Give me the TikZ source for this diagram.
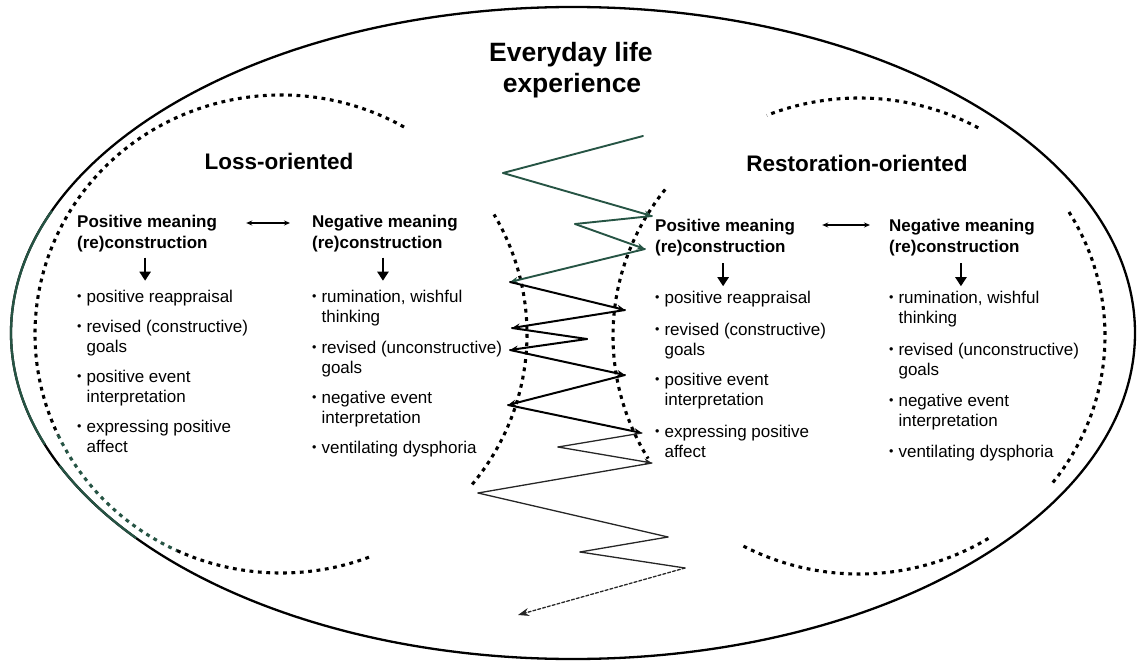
\documentclass[tikz,border=0pt]{standalone}
\usepackage{fontspec}
\setmainfont{Liberation Sans}
\usetikzlibrary{arrows.meta}
\definecolor{dkgreen}{RGB}{38,84,68}
% small raised bullet and two-line list items
\newcommand\blt{\raisebox{1.2pt}{\fontsize{12.5}{12.5}\selectfont\textbullet}\hspace{5pt}}
\newcommand\itm[2]{\vtop{\hbox{\blt #1}\hbox{\hphantom{\blt}#2}}}
\newcommand\twolines[2]{\vtop{\hbox{#1}\hbox{#2}}}
\begin{document}
\begin{tikzpicture}[x=1pt,y=-1pt,
  txt/.style={inner sep=0pt,anchor=base west,font=\fontsize{17}{20.5}\selectfont},
  head/.style={txt,font=\fontsize{17}{20.5}\selectfont\bfseries},
  title/.style={inner sep=0pt,anchor=base,font=\fontsize{22.5}{27}\selectfont\bfseries},
  bigtitle/.style={inner sep=0pt,anchor=base,font=\fontsize{26.5}{31}\selectfont\bfseries},
  dots/.style={line width=3.1pt,dash pattern=on 3.8pt off 4.6pt},
  dblarr/.style={line width=1.3pt,{Stealth[length=6pt,width=5pt]}-{Stealth[length=6pt,width=5pt]}},
  downarr/.style={line width=2.6pt,-{Triangle[length=9pt,width=11pt]}},
  zg/.style={line width=1.9pt,dkgreen,line cap=round},
  zb/.style={line width=2pt,black,line cap=round},
  zt/.style={line width=1.3pt,black!85,line cap=round},
  tip/.style={-{Stealth[length=8pt,width=6.5pt]}}
]
\useasboundingbox (0,0) rectangle (1138,663);

% outer ellipse
\coordinate (O) at (573,333);
\draw[line width=2.3pt] (O) ellipse[x radius=562,y radius=326];
\draw[line width=2.3pt,dkgreen] (O) ++(-158:562 and 326) arc[start angle=-158,end angle=-200,x radius=562,y radius=326];
\draw[line width=2.3pt,dkgreen] (O) ++(-204:562 and 326) arc[start angle=-204,end angle=-219,x radius=562,y radius=326];

% dotted boundary of the loss-oriented domain
\coordinate (L) at (281,334);
\draw[dots] (L) ++(-60:246 and 239) arc[start angle=-60,end angle=-205,x radius=246,y radius=239];
\draw[dots,dkgreen] (L) ++(-205:246 and 239) arc[start angle=-205,end angle=-245,x radius=246,y radius=239];
\draw[dots] (L) ++(-245:246 and 239) arc[start angle=-245,end angle=-291,x radius=246,y radius=239];
\draw[dots] (L) ++(39:246 and 239) arc[start angle=39,end angle=-30,x radius=246,y radius=239];

% dotted boundary of the restoration-oriented domain
\coordinate (R) at (859,336);
\draw[dots] (R) ++(-61:246 and 238) arc[start angle=-61,end angle=-112,x radius=246,y radius=238];
\draw[dots] (R) ++(-142:246 and 238) arc[start angle=-142,end angle=-211,x radius=246,y radius=238];
\draw[dots] (R) ++(-242:246 and 238) arc[start angle=-242,end angle=-302,x radius=246,y radius=238];
\draw[dots] (R) ++(38:246 and 238) arc[start angle=38,end angle=-32,x radius=246,y radius=238];

% titles
\node[bigtitle] (t1) at (571,62) {Everyday life};
\node[bigtitle] (t2) at (572,93) {experience};
\node[title] (loss) at (279,170) {Loss-oriented};
\node[title] (rest) at (857,172) {Restoration-oriented};

% loss-oriented block
\node[head] (hLP) at (77,228) {\twolines{Positive meaning}{(re)construction}};
\node[head] (hLN) at (312,228) {\twolines{Negative meaning}{(re)construction}};
\draw[dblarr] ([shift={(29,-5)}]hLP.base east) -- ([shift={(-22,-5)}]hLN.base west);
\draw[downarr] ([shift={(-2,5.5)}]hLP.south) -- ++(0,23);
\draw[downarr] ([shift={(-2,5.5)}]hLN.south) -- ++(0,23);

\node[txt] (lp1) at (77,302) {\blt positive reappraisal};
\node[txt] (lp2) at (77,332) {\itm{revised (constructive)}{goals}};
\node[txt] (lp3) at (77,382) {\itm{positive event}{interpretation}};
\node[txt] (lp4) at (77,432) {\itm{expressing positive}{affect}};

\node[txt] (ln1) at (312,302) {\itm{rumination, wishful}{thinking}};
\node[txt] (ln2) at (312,353) {\itm{revised (unconstructive)}{goals}};
\node[txt] (ln3) at (312,403) {\itm{negative event}{interpretation}};
\node[txt] (ln4) at (312,453) {\blt ventilating dysphoria};

% restoration-oriented block
\node[head] (hRP) at (655,232) {\twolines{Positive meaning}{(re)construction}};
\node[head] (hRN) at (889,232) {\twolines{Negative meaning}{(re)construction}};
\draw[dblarr] ([shift={(27,-7)}]hRP.base east) -- ([shift={(-19,-7)}]hRN.base west);
\draw[downarr] ([shift={(-2,7)}]hRP.south) -- ++(0,23);
\draw[downarr] ([shift={(-1,7)}]hRN.south) -- ++(0,23);

\node[txt] (rp1) at (655,303) {\blt positive reappraisal};
\node[txt] (rp2) at (655,335) {\itm{revised (constructive)}{goals}};
\node[txt] (rp3) at (655,385) {\itm{positive event}{interpretation}};
\node[txt] (rp4) at (655,437) {\itm{expressing positive}{affect}};

\node[txt] (rn1) at (889,303) {\itm{rumination, wishful}{thinking}};
\node[txt] (rn2) at (889,355) {\itm{revised (unconstructive)}{goals}};
\node[txt] (rn3) at (889,406) {\itm{negative event}{interpretation}};
\node[txt] (rn4) at (889,457) {\blt ventilating dysphoria};

% oscillation path
\coordinate (z0) at (643,136);
\coordinate (z1) at (503,173);
\coordinate (z2) at (652,216);
\coordinate (z3) at (575,224);
\coordinate (z4) at (645,249);
\coordinate (z5) at (510,282);
\coordinate (z6) at (625,310);
\coordinate (z7) at (512,328);
\coordinate (z8) at (587,339);
\coordinate (z9) at (510,350);
\coordinate (z10) at (625,375);
\coordinate (z11) at (508,405);
\coordinate (z12) at (642,433);
\coordinate (z13) at (558,447);
\coordinate (z14) at (652,463);
\coordinate (z15) at (478,493);
\coordinate (z16) at (668,537);
\coordinate (z17) at (580,552);
\coordinate (z18) at (685,568);
\coordinate (z19) at (518,615);

\draw[zg] (z0) -- (z1);
\draw[zg,tip] (z1) -- (z2);
\draw[zg] (z2) -- (z3);
\draw[zg,tip] (z3) -- (z4);
\draw[zg,tip] (z4) -- (z5);
\draw[zb,tip] (z5) -- (z6);
\draw[zb,tip] (z6) -- (z7);
\draw[zb] (z7) -- (z8);
\draw[zb,tip] (z8) -- (z9);
\draw[zb,tip] (z9) -- (z10);
\draw[zb,tip] (z10) -- (z11);
\draw[zb,tip] (z11) -- (z12);
\draw[zt] (z12) -- (z13);
\draw[zt,tip] (z13) -- (z14);
\draw[zt] (z14) -- (z15);
\draw[zt] (z15) -- (z16);
\draw[zt] (z16) -- (z17);
\draw[zt] (z17) -- (z18);
\draw[zt,densely dashed,-{Stealth[length=11pt,width=8pt]}] (z18) -- (z19);
\end{tikzpicture}
\end{document}
